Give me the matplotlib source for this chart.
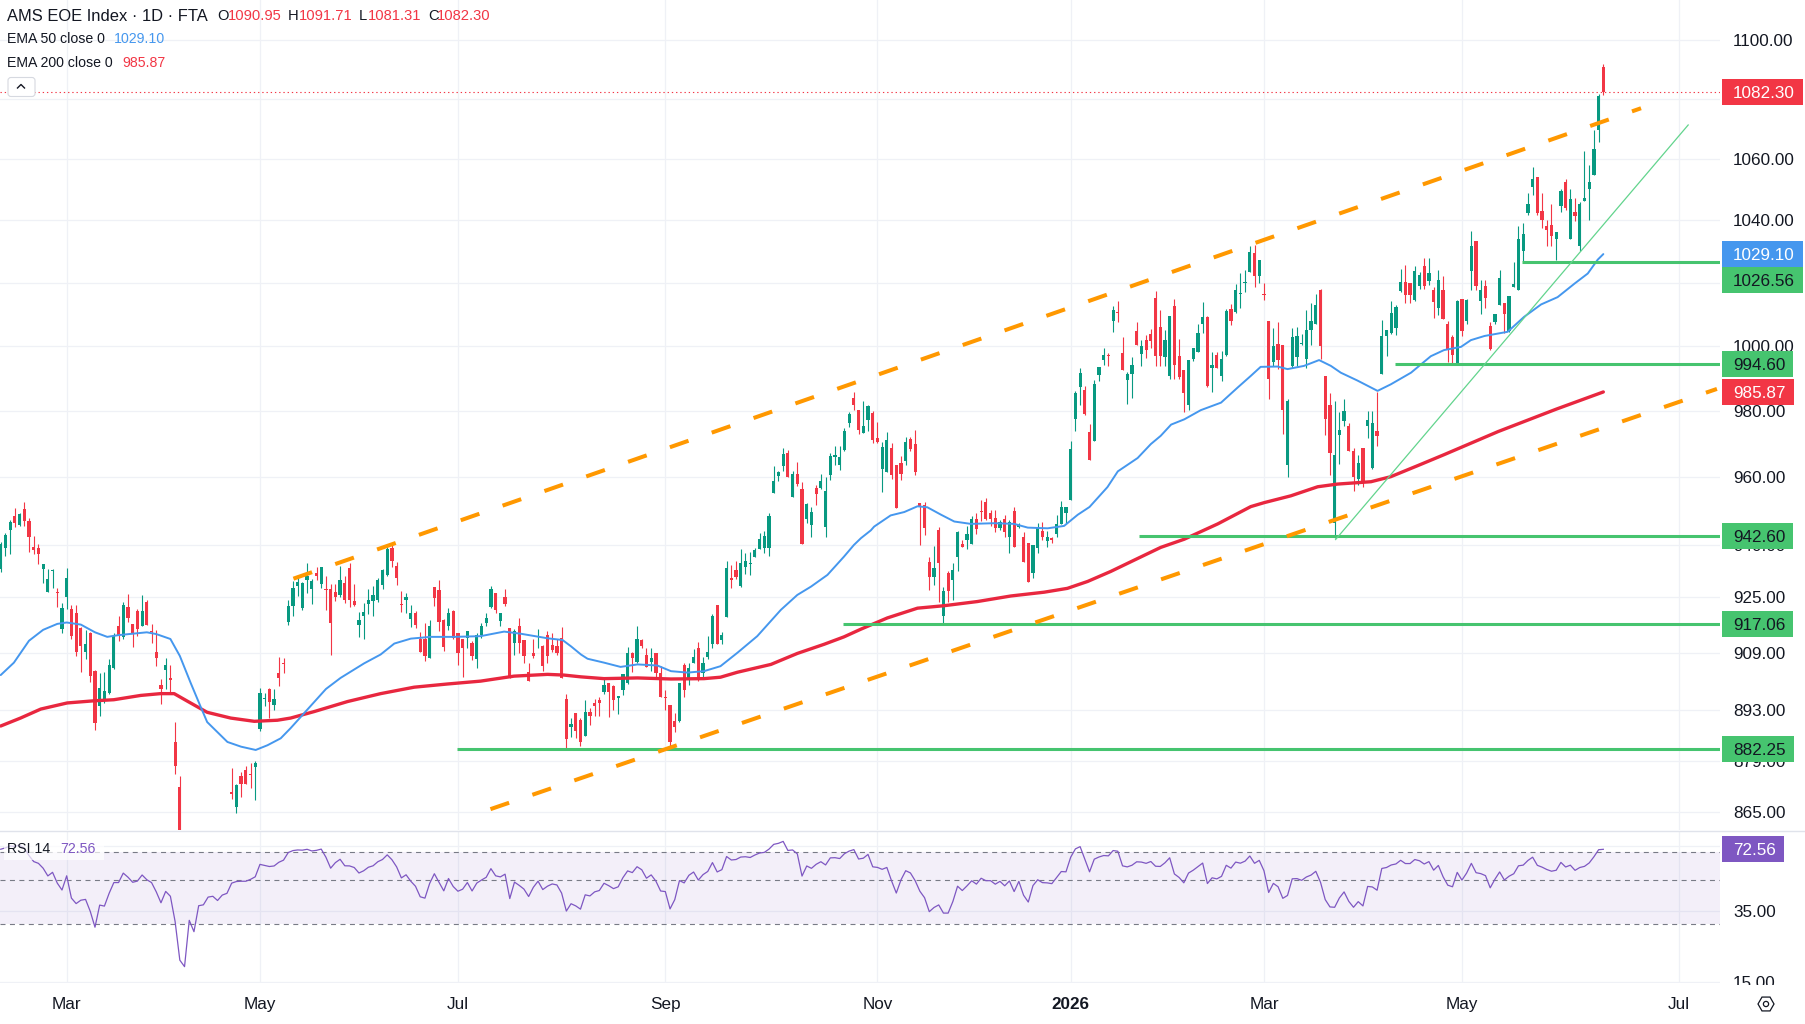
import numpy as np
import matplotlib
matplotlib.use('Agg')
import matplotlib.pyplot as plt
from matplotlib.patches import Rectangle, RegularPolygon, Circle, FancyBboxPatch
from matplotlib.lines import Line2D
from matplotlib.transforms import IdentityTransform, Bbox

plt.rcParams['font.family'] = ['Liberation Sans', 'DejaVu Sans']

# ---------------- data ----------------
first_session = '2025-02-11'
holidays = ['2025-04-18', '2025-04-21', '2025-05-01', '2025-12-25', '2025-12-26',
            '2026-01-01', '2026-04-03', '2026-04-06', '2026-05-01']

opens = [
    933.1, 939.0, 944.5, 948.6, 945.8, 950.7, 947.1, 939.3, 939.0, 932.9,
    926.3, 932.3, 926.2, 915.7, 924.9, 921.4, 920.2, 916.1, 909.2, 914.6,
    903.8, 894.1, 895.4, 897.7, 904.6, 916.7, 913.4, 922.1, 917.2, 920.8,
    916.6, 923.4, 915.0, 909.3, 899.8, 904.0, 902.0, 884.1, 871.8,
    812, 832, 825, 852, 842, 852, 855, 853, 851, 852,
    870.3, 866.4, 874.8, 876.5, 875.2, 877.1, 887.6, 896.0, 898.8, 894.3, 903.4, 906.0, 917.7,
    922.2, 928.0, 921.7, 929.7, 927.3, 931.7, 928.8, 927.0, 927.3, 926.3,
    925.5, 928.9, 933.4, 923.8, 917.0, 919.4, 922.8, 923.7, 924.0, 928.5,
    931.4, 939.0, 933.9, 922.7, 924.0, 918.7, 920.4, 913.0, 913.0, 907.6,
    927.7, 927.0, 918.2, 916.5, 921.0, 914.6, 912.8, 913.2, 911.8, 907.3,
    913.9, 917.5, 922.0, 926.1, 918.1, 925.0, 916.0, 911.8, 916.6, 912.5,
    903.5, 908.8, 913.4, 910.9, 913.9, 911.1, 911.0, 913.2, 896.0, 888.1,
    892.0, 890.3,
    885.8, 892.4, 894.9, 895.8, 898.0, 900.4, 899.7, 896.2, 898.6, 900.5,
    909.0, 906.4, 912.6, 908.3, 906.5, 909.0, 903.4, 896.3, 894.4, 889.8,
    889.8, 905.6, 902.0, 906.2, 910.4, 903.4, 907.8, 911.4, 922.6, 912.7,
    919.2, 930.3, 932.7, 928.0, 933.7, 934.4, 936.6, 938.7, 939.0, 939.0,
    955.3, 960.3, 963.3, 967.3, 954.3, 961.1, 956.6, 947.6, 945.8, 956.8,
    956.8, 945.3, 960.6, 966.1, 963.6, 968.3, 976.5, 983.9, 980.3, 973.5,
    977.3,
    979.5, 971.9, 962.5, 961.6, 968.9, 963.8, 964.3, 964.8, 971.4, 969.9,
    952.3, 951.8, 935.0, 930.8, 944.5, 919.4, 931.8, 929.8, 936.6, 940.3,
    941.4, 940.3, 947.6, 950.1, 952.8, 949.4, 947.9, 944.9, 947.6, 942.2,
    950.1, 945.2, 942.4, 940.5, 931.8, 939.2, 944.1, 941.2, 941.7, 943.3,
    946.2, 949.4, 953.3, 977.5, 987.5, 986.4, 973.7, 971.0, 991.0, 995.7,
    997.2, 1007.8, 1010.6, 998.0, 989.5, 991.3, 1004.7, 997.7, 1001.8, 1003.8,
    1015.1,
    1006.0, 996.8, 990.8, 1012.6, 997.1, 992.6, 982.0, 995.9, 998.3, 1007.0,
    1009.2, 993.1, 997.4, 990.9, 997.4, 1011.8, 1010.7, 1016.4, 1019.9, 1023.4,
    1029.3, 1022.1, 1016.5, 1007.8, 995.1, 1000.8, 1000.5, 963.8, 993.8, 996.7,
    1000.6, 996.1, 1005.2, 1007.1, 1017.6, 990.8, 982.0, 946.4, 972.6, 977.1,
    975.4, 967.8, 959.6, 968.8, 975.4, 962.9, 974.0, 991.5, 1003.3, 1004.1,
    1005.7, 1017.4, 1020.1, 1019.9, 1014.5, 1018.9, 1025.3, 1020.4, 1017.6, 1011.9,
    1017.6, 1007.1,
    1002.9, 994.8, 1014.9, 1008.0, 1023.8, 1033.4, 1014.2, 1018.9, 1006.3, 1007.6,
    1012.8, 1013.7, 1004.7, 1018.7, 1017.6, 1030.0, 1042.2, 1050.8, 1054.1, 1043.0,
    1038.1, 1038.6, 1034.0, 1044.5, 1052.4, 1033.8, 1042.7, 1031.6, 1046.2, 1050.1,
    1054.6, 1069.6, 1090.95,
]

highs = [
    941.0, 943.5, 947.3, 950.9, 949.3, 952.6, 948.0, 942.7, 940.2, 934.6,
    932.9, 932.9, 927.6, 923.2, 933.4, 922.6, 922.6, 916.4, 915.4, 915.0,
    904.0, 903.2, 903.7, 907.2, 914.6, 919.5, 923.6, 925.9, 917.2, 921.4,
    925.6, 924.1, 917.1, 915.4, 901.5, 907.5, 905.4, 889.7, 874.9,
    835, 848, 838, 858, 850, 858, 859, 857, 858, 859,
    877.0, 872.7, 875.9, 877.4, 878.2, 878.8, 899.1, 897.7, 899.1, 898.7, 907.9, 907.6, 924.1,
    929.4, 931.3, 929.2, 934.7, 930.1, 933.6, 933.5, 931.1, 928.7, 928.7,
    934.0, 931.1, 934.7, 928.7, 920.7, 923.1, 927.3, 928.0, 930.4, 933.0,
    939.8, 940.6, 934.9, 926.6, 926.0, 922.6, 921.0, 915.0, 917.5, 918.4,
    927.8, 929.9, 918.6, 921.7, 921.2, 914.6, 913.0, 915.3, 912.3, 914.6,
    917.5, 920.4, 928.0, 926.1, 920.4, 927.3, 916.0, 915.6, 918.9, 912.5,
    906.0, 913.0, 915.8, 911.1, 915.1, 914.6, 912.8, 916.3, 897.3, 890.6,
    892.0, 890.8,
    895.8, 893.5, 896.1, 896.5, 901.7, 900.5, 899.9, 896.9, 903.1, 910.6,
    909.2, 916.5, 913.0, 910.4, 910.4, 909.0, 905.2, 898.5, 894.4, 892.1,
    900.5, 906.0, 906.0, 910.0, 912.0, 907.9, 913.7, 919.9, 922.6, 914.8,
    935.2, 934.2, 935.2, 938.7, 937.6, 938.0, 939.0, 943.5, 944.0, 949.3,
    963.5, 961.8, 968.8, 968.3, 961.8, 964.5, 958.6, 952.5, 951.1, 957.8,
    961.1, 960.0, 967.3, 969.3, 969.5, 975.0, 979.8, 985.9, 980.3, 983.0,
    981.8,
    980.0, 976.7, 970.6, 973.7, 970.4, 963.8, 966.3, 972.1, 972.1, 974.4,
    952.5, 952.8, 936.4, 939.7, 945.3, 927.9, 932.4, 934.7, 944.0, 941.5,
    945.5, 948.4, 949.4, 953.4, 953.8, 950.4, 950.4, 947.2, 948.7, 947.2,
    951.1, 946.6, 943.9, 940.5, 940.0, 946.4, 946.9, 944.1, 942.2, 948.7,
    953.1, 951.3, 970.8, 986.1, 993.3, 987.7, 976.0, 989.4, 993.7, 999.5,
    998.0, 1012.7, 1014.1, 1002.9, 992.0, 996.5, 1007.5, 1001.9, 1003.6, 1005.4,
    1017.2,
    1011.2, 1005.2, 1009.5, 1014.7, 1002.1, 992.6, 995.7, 999.5, 1007.0, 1014.0,
    1009.4, 998.2, 998.2, 998.6, 1011.8, 1013.1, 1019.5, 1022.9, 1024.0, 1031.7,
    1032.0, 1027.2, 1019.8, 1007.8, 1005.7, 1007.5, 1000.5, 983.6, 1005.7, 1006.0,
    1003.9, 1011.2, 1013.5, 1016.4, 1018.0, 990.8, 985.5, 983.0, 979.8, 983.7,
    976.5, 968.8, 966.8, 968.8, 980.1, 980.0, 986.0, 1008.3, 1005.2, 1014.2,
    1012.9, 1024.2, 1025.6, 1019.9, 1025.3, 1023.4, 1027.7, 1027.7, 1018.6, 1024.0,
    1022.2, 1008.0,
    1003.4, 1014.6, 1014.9, 1014.9, 1036.4, 1033.4, 1020.7, 1020.7, 1007.6, 1010.2,
    1024.0, 1013.7, 1015.7, 1026.5, 1038.0, 1039.1, 1048.7, 1057.3, 1054.1, 1048.9,
    1040.2, 1045.3, 1036.3, 1050.2, 1053.5, 1050.2, 1047.3, 1045.9, 1062.8, 1058.2,
    1069.6, 1081.7, 1091.71,
]

lows = [
    932.0, 936.8, 937.5, 945.3, 945.6, 945.6, 937.9, 937.3, 934.6, 929.0,
    926.3, 927.6, 922.0, 914.5, 921.4, 913.0, 908.0, 903.7, 907.2, 900.7,
    887.4, 891.3, 894.9, 897.5, 904.3, 912.2, 913.0, 917.8, 910.5, 913.7,
    916.6, 916.8, 911.7, 905.3, 894.6, 898.7, 897.9, 875.2, 825.0,
    790, 828, 812, 836, 832, 849, 850, 845, 848, 848,
    868.6, 864.8, 869.1, 872.5, 871.4, 868.4, 887.2, 894.0, 890.8, 893.0, 899.6, 903.2, 916.8,
    919.4, 925.2, 921.2, 926.0, 922.9, 929.9, 927.5, 921.3, 908.4, 923.9,
    925.0, 923.3, 922.0, 922.2, 913.5, 913.0, 920.0, 919.5, 923.5, 927.3,
    930.9, 933.6, 928.5, 920.5, 920.3, 916.3, 916.0, 909.2, 906.7, 907.6,
    922.4, 915.1, 909.5, 915.4, 913.0, 905.4, 902.1, 910.4, 907.0, 904.8,
    913.2, 916.5, 921.7, 920.4, 916.7, 922.2, 902.0, 908.5, 909.0, 906.0,
    901.0, 907.6, 910.4, 903.8, 906.0, 909.2, 908.5, 901.9, 882.5, 885.4,
    885.2, 882.9,
    885.8, 888.9, 891.2, 891.2, 897.5, 891.0, 893.0, 891.8, 897.1, 900.3,
    903.6, 906.2, 910.4, 905.1, 903.8, 901.5, 896.6, 893.0, 882.3, 886.8,
    889.5, 896.6, 899.8, 906.0, 901.0, 901.5, 907.2, 910.4, 911.4, 911.4,
    919.2, 927.4, 930.0, 927.7, 931.6, 931.3, 936.6, 938.7, 937.6, 936.8,
    955.3, 958.8, 961.8, 960.0, 954.3, 957.3, 940.2, 946.4, 942.2, 951.9,
    956.5, 942.2, 959.3, 963.8, 962.3, 967.8, 975.3, 980.3, 973.1, 973.5,
    973.9,
    970.4, 970.2, 955.5, 961.6, 959.5, 950.8, 959.3, 963.6, 967.9, 960.6,
    940.0, 942.9, 927.0, 928.4, 923.6, 916.8, 923.6, 924.1, 932.4, 939.3,
    938.7, 940.3, 943.3, 947.0, 947.2, 945.6, 943.9, 944.5, 942.2, 937.6,
    939.3, 944.9, 935.0, 929.3, 930.3, 937.6, 941.5, 939.5, 940.5, 942.2,
    946.2, 946.6, 953.3, 974.0, 982.0, 978.8, 965.1, 971.0, 989.2, 994.1,
    993.8, 1004.4, 1007.5, 992.6, 982.3, 984.1, 1000.3, 993.8, 996.3, 999.5,
    994.0,
    994.0, 994.0, 990.0, 990.0, 990.0, 979.7, 980.4, 995.5, 998.3, 1004.1,
    987.5, 986.0, 993.1, 989.3, 997.1, 1006.6, 1010.5, 1012.0, 1017.0, 1023.4,
    1018.5, 1019.8, 1014.5, 983.6, 993.9, 992.8, 972.9, 960.0, 993.4, 993.8,
    1000.5, 993.4, 1000.5, 1006.8, 996.1, 972.6, 960.7, 942.0, 963.9, 975.5,
    967.8, 955.8, 957.6, 957.2, 971.7, 962.4, 969.5, 991.5, 996.9, 1003.9,
    1003.6, 1017.1, 1013.5, 1013.5, 1014.2, 1018.1, 1017.9, 1019.4, 1008.8, 1009.8,
    1008.4, 995.1,
    994.8, 994.8, 1003.1, 1007.1, 1017.6, 1017.8, 1010.2, 1011.9, 998.8, 1006.9,
    1012.8, 1004.2, 1004.4, 1018.5, 1017.6, 1026.8, 1041.7, 1048.1, 1041.8, 1037.5,
    1031.8, 1031.6, 1027.1, 1042.6, 1043.3, 1033.8, 1039.7, 1030.0, 1046.2, 1040.0,
    1054.6, 1065.8, 1081.31,
]

closes = [
    940.2, 943.0, 946.8, 946.6, 949.0, 947.1, 942.4, 938.6, 937.5, 934.6,
    930.0, 932.5, 926.0, 921.7, 930.5, 913.8, 909.3, 911.0, 911.4, 902.4,
    889.4, 899.1, 898.2, 905.6, 913.8, 913.8, 922.6, 919.0, 914.6, 915.6,
    920.8, 917.0, 914.8, 907.6, 898.7, 905.4, 901.3, 877.5, 828.0,
    818, 842, 822, 845, 846, 855, 856, 849, 855, 857,
    870.0, 872.3, 872.7, 872.7, 875.0, 878.2, 897.7, 896.3, 895.1, 896.0, 902.0, 905.8, 922.2,
    927.5, 929.2, 929.0, 931.1, 929.6, 930.9, 933.5, 926.8, 917.5, 924.8,
    929.9, 924.1, 924.0, 922.7, 918.4, 920.5, 924.0, 925.5, 929.9, 932.6,
    938.8, 935.4, 930.4, 922.5, 925.0, 920.4, 916.8, 909.2, 908.2, 916.7,
    924.5, 917.6, 910.7, 920.3, 913.2, 909.0, 910.4, 915.3, 908.2, 914.0,
    916.5, 918.8, 927.3, 921.3, 920.4, 922.8, 902.0, 915.1, 911.8, 908.2,
    901.0, 908.0, 913.5, 905.2, 908.0, 909.9, 909.0, 901.9, 884.9, 889.1,
    887.0, 884.0,
    892.4, 891.4, 894.0, 894.9, 899.9, 898.0, 895.8, 896.9, 903.1, 908.8,
    907.6, 913.0, 910.9, 905.1, 907.6, 903.4, 896.6, 896.2, 884.0, 888.2,
    900.4, 898.5, 904.8, 907.9, 901.5, 906.2, 909.2, 919.4, 911.4, 913.9,
    933.2, 929.8, 930.6, 934.7, 935.2, 934.6, 938.4, 941.7, 942.7, 948.5,
    959.0, 961.7, 967.1, 960.0, 961.0, 958.1, 940.2, 952.0, 949.8, 955.1,
    958.8, 956.0, 966.5, 966.8, 966.1, 974.0, 979.0, 982.0, 974.3, 975.5,
    981.5,
    971.2, 970.7, 969.2, 971.1, 960.8, 950.8, 961.0, 970.7, 968.6, 961.5,
    951.5, 945.1, 930.8, 933.2, 934.7, 926.7, 926.7, 932.8, 943.7, 939.5,
    943.2, 947.6, 944.6, 949.7, 947.6, 947.6, 944.9, 946.9, 943.7, 946.9,
    939.3, 945.9, 935.0, 929.3, 940.0, 944.9, 942.4, 942.2, 941.6, 946.1,
    951.3, 951.1, 968.5, 985.6, 991.8, 979.0, 965.1, 988.4, 993.7, 997.4,
    997.0, 1011.2, 1010.4, 992.6, 991.3, 994.1, 1000.3, 1000.0, 998.7, 1001.6,
    997.1,
    996.9, 1001.8, 1009.5, 994.1, 990.6, 985.4, 995.7, 999.3, 1004.1, 1009.2,
    987.8, 994.3, 993.1, 995.9, 1011.0, 1007.9, 1017.8, 1016.6, 1020.1, 1029.8,
    1022.1, 1027.2, 1016.2, 990.0, 1000.2, 995.7, 980.3, 983.0, 1002.8, 1003.1,
    1000.8, 1005.2, 1007.8, 1013.0, 1000.0, 977.5, 967.3, 966.8, 974.4, 980.1,
    967.8, 960.0, 964.4, 959.0, 977.2, 976.5, 972.4, 1003.3, 1005.2, 1010.3,
    1012.4, 1020.1, 1016.0, 1016.0, 1023.8, 1022.4, 1018.9, 1022.9, 1014.0, 1020.9,
    1008.6, 999.0,
    997.2, 1014.2, 1004.8, 1014.4, 1031.8, 1018.9, 1017.6, 1015.0, 999.1, 1010.0,
    1021.5, 1010.0, 1015.7, 1019.6, 1034.0, 1035.4, 1045.4, 1053.5, 1042.4, 1040.0,
    1037.0, 1034.9, 1036.3, 1049.4, 1044.0, 1047.0, 1041.3, 1045.4, 1047.1, 1052.3,
    1063.4, 1081.1, 1082.30,
]

# EMA curves (bar index, value)
ema50_bars = [0, 2.8, 6, 9, 12, 14, 17, 20, 22.6, 25, 28, 31, 33, 36, 38, 40.3, 42.4, 43.8, 48.1,
              51, 54.1, 56.6, 59.4, 61.5, 64.4, 69, 72.1, 77.1, 80.6, 83.5, 87, 91.2, 96.2, 101.8,
              106.8, 110.3, 116, 119.2, 121, 123.1, 124.5, 128, 131.5, 135.1, 139.3, 142.2, 145.7,
              149.2, 152.7, 156.3, 160.5, 165.5, 169, 171.9, 175.4, 178.9, 181, 182.5, 184.6, 185.3,
              188.8, 191.7, 194.5, 196.6, 199.5, 202.3, 205.8, 210.8, 215, 217.9, 222.1, 225.6,
              228.5, 231, 234.8, 237, 241.2, 244, 246.1, 248.3, 251.1, 254.6, 258.9, 262.4, 265.2,
              267.3, 270.9, 273, 276.5, 279.7, 282.2, 284.3, 287.8, 292.1, 294.9, 299.2, 303.4,
              306.2, 309.8, 311.9, 314.8, 319.7, 323.2, 326.8, 330.3, 333.9, 336.7, 338.8, 340]
ema50_vals = [902.7, 906.2, 912.4, 915.5, 917.2, 917.6, 917.0, 914.8, 913.5, 914.0, 914.4, 914.8,
              914.3, 912.9, 908.1, 900.5, 893.9, 889.6, 884.1, 882.8, 881.9, 883.2, 885.1, 887.9,
              892.1, 898.8, 901.9, 906.0, 908.5, 911.6, 913.0, 913.5, 913.5, 913.7, 915.0, 914.4,
              913.1, 912.6, 910.8, 908.5, 907.3, 906.2, 905.0, 905.7, 905.4, 903.8, 903.4, 903.8,
              905.2, 909.0, 913.7, 921.2, 925.5, 927.9, 931.3, 936.6, 940.0, 942.0, 944.3, 945.4,
              948.7, 949.7, 951.4, 951.1, 948.9, 946.9, 946.2, 946.4, 946.2, 945.1, 944.9, 945.6,
              948.9, 951.2, 957.1, 961.8, 965.8, 970.0, 972.5, 975.9, 977.5, 980.3, 982.6, 987.2,
              990.8, 993.6, 993.7, 992.9, 993.9, 995.7, 993.9, 991.8, 989.4, 986.2, 988.2, 991.8,
              996.9, 998.8, 999.8, 1001.9, 1003.2, 1004.5, 1009.2, 1013.1, 1015.4, 1019.7, 1022.9,
              1027.3, 1029.1]
ema200_bars = [0, 4.2, 8.5, 14.1, 19.8, 24, 29.7, 33.9, 36.8, 39.6, 43.8, 48.8, 53.8, 58.7, 61.5,
               66.5, 73.6, 80.6, 87.7, 94.8, 101.8, 108.9, 116, 119.5, 123.1, 128, 135.1, 142.2,
               149.2, 152.7, 156.3, 163.4, 169, 174.7, 178.9, 182.5, 188.1, 194.5, 200.1, 207.2,
               214.3, 221.4, 226.3, 230.6, 235.5, 240.5, 246.1, 251.1, 258.2, 265.2, 268.1, 273.7,
               279.4, 283.6, 290.7, 294.9, 300.6, 306.2, 317.7, 330, 340]
ema200_vals = [888.5, 890.7, 893.2, 894.9, 895.5, 895.8, 897.0, 897.5, 897.5, 895.4, 892.3, 890.7,
               889.8, 890.1, 890.7, 892.5, 895.3, 897.5, 899.3, 900.2, 901.0, 902.4, 902.9, 902.7,
               902.2, 901.7, 901.9, 901.6, 901.7, 902.1, 903.5, 905.7, 908.8, 911.4, 913.5, 915.7,
               918.9, 921.7, 922.4, 923.6, 925.2, 926.3, 927.4, 929.4, 932.3, 935.6, 939.3, 941.7,
               946.2, 951.3, 952.5, 954.5, 957.2, 958.0, 958.7, 960.2, 963.5, 966.8, 973.8, 980.6,
               985.87]

last_ohlc = [1090.95, 1091.71, 1081.31, 1082.30]
ema50_last = 1029.10
ema200_last = 985.87
rsi_last = 72.56
rsi_period = 14
rsi_seed_gain, rsi_seed_loss = 3.4, 1.3

month_labels = ['Mar', 'May', 'Jul', 'Sep', 'Nov', '2026', 'Mar', 'May', 'Jul']
month_dates = ['2025-03-01', '2025-05-01', '2025-07-01', '2025-09-01', '2025-11-01',
               '2026-01-01', '2026-03-01', '2026-05-01', '2026-07-01']
price_ticks = [865, 879, 893, 909, 925, 940, 960, 980, 1000, 1020, 1040, 1060, 1080, 1100]
rsi_ticks = [75, 35, 15]
rsi_levels = [70, 50, 30]

level_prices = [882.25, 917.06, 942.60, 994.60, 1026.56]
level_start_bars = [96.8, 178.8, 241.5, 295.8, 322.7]
upper_channel_bars, upper_channel_prices = [62.1, 348.0], [930.2, 1076.9]
lower_channel_bars, lower_channel_prices = [103.9, 364.1], [865.8, 986.8]
trend_bars, trend_prices = [283.2, 358.0], [941.6, 1071.3]

# ---------------- style ----------------
W, H = 1806, 1024
UP, DOWN = '#089981', '#F23645'
BLUE = '#4597EE'
EMA_RED = '#E8273F'
ORANGE = '#FF9800'
GREEN = '#46C46F'
PURPLE = '#7E57C2'
GRID = '#EFF1F6'
TXT = '#131722'
ID = IdentityTransform()

o = np.array(opens, float); h = np.array(highs, float)
l = np.array(lows, float); c = np.array(closes, float)
n = len(c)
assert len(o) == len(h) == len(l) == n, (len(o), len(h), len(l), n)
x = np.arange(n)

dates = np.busday_offset(first_session, np.arange(n), roll='forward', holidays=holidays)
tick_pos = []
for md in month_dates:
    d = np.datetime64(md)
    if d <= dates[-1]:
        tick_pos.append(int(np.searchsorted(dates, d)))
    else:
        tick_pos.append(n - 1 + int((d - dates[-1]).astype(int)))


def rsi_wilder(cl, period, g0, l0):
    out = np.empty(len(cl))
    ag, al = g0, l0
    out[0] = 100 - 100 / (1 + ag / al)
    for i in range(1, len(cl)):
        ch = cl[i] - cl[i - 1]
        ag = (ag * (period - 1) + max(ch, 0)) / period
        al = (al * (period - 1) + max(-ch, 0)) / period
        out[i] = 100 - 100 / (1 + ag / al) if al > 0 else 100.0
    return out


rsi = rsi_wilder(c, rsi_period, rsi_seed_gain, rsi_seed_loss)

fig = plt.figure(figsize=(W / 100, H / 100), dpi=100, facecolor='white')
plot_w = 1720
ax = fig.add_axes([0, 1 - 830 / H, plot_w / W, 830 / H])
rx = fig.add_axes([0, 1 - 983 / H, plot_w / W, (983 - 831) / H])
xlim = (-0.15, -0.15 + plot_w / 4.7136)
for a in (ax, rx):
    a.set_yscale('log')
    a.set_xlim(*xlim)
    a.set_axis_off()
ax.set_ylim(860.2, 1113.8)
rx.set_ylim(14.83, 89.8)

# grids
for p in price_ticks:
    ax.axhline(p, color=GRID, lw=0.9, zorder=0)
for t in rsi_ticks:
    rx.axhline(t, color=GRID, lw=0.9, zorder=0)
for t in tick_pos:
    ax.axvline(t, color=GRID, lw=0.9, zorder=0)
    rx.axvline(t, color=GRID, lw=0.9, zorder=0)

# candles
up = c >= o
cols = np.where(up, UP, DOWN)
ax.vlines(x, l, h, colors=cols, lw=0.8, zorder=2)
bb = np.minimum(o, c)
bh = np.maximum(np.abs(c - o), 0.35)
ax.bar(x, bh, bottom=bb, width=0.68, color=cols, linewidth=0, zorder=3)

# EMAs
ax.plot(ema200_bars, ema200_vals, color=EMA_RED, lw=2.4, zorder=4, solid_capstyle='round')
ax.plot(ema50_bars, ema50_vals, color=BLUE, lw=1.4, zorder=4, solid_capstyle='round')

# last price dotted line
ax.axhline(last_ohlc[3], color=DOWN, lw=0.8, linestyle=(0, (1.2, 2.6)), zorder=1)

# drawings
for p, s in zip(level_prices, level_start_bars):
    ax.plot([s, xlim[1]], [p, p], color=GREEN, lw=2.2, zorder=5, solid_capstyle='butt')
for bx, py in ((upper_channel_bars, upper_channel_prices), (lower_channel_bars, lower_channel_prices)):
    ax.plot(bx, py, color=ORANGE, lw=2.9, dashes=(4.9, 6.1), dash_capstyle='butt', zorder=6)
ax.plot(trend_bars, trend_prices, color='#62D48D', lw=0.9, zorder=5)

# RSI pane
rx.axhspan(rsi_levels[-1], rsi_levels[0], color=PURPLE, alpha=0.09, lw=0, zorder=0)
for lv in rsi_levels:
    rx.axhline(lv, color='#787B86', lw=0.8, dashes=(4.5, 4), zorder=1)
rx.plot(x, rsi, color=PURPLE, lw=0.9, zorder=3)

# separator
fig.add_artist(Line2D([0, W], [H - 831, H - 831], color='#E0E3EB', lw=1, transform=ID))

renderer = fig.canvas.get_renderer()
FS = 12.3
BOX_H = 26

# value boxes on the price scales: compute their vertical slots first
boxes = [(last_ohlc[3], DOWN, 'white'), (ema50_last, BLUE, 'white'), (level_prices[4], GREEN, TXT),
         (level_prices[3], GREEN, TXT), (ema200_last, DOWN, 'white'), (level_prices[2], GREEN, TXT),
         (level_prices[1], GREEN, TXT), (level_prices[0], GREEN, TXT)]
boxes.sort(key=lambda b: -b[0])
main_slots = []
prev = None
for val, fc, tc in boxes:
    yc = ax.transData.transform((0, val))[1]
    if prev is not None and prev - yc < BOX_H:
        yc = prev - BOX_H
    main_slots.append((yc, f'{val:.2f}', fc, tc))
    prev = yc
rsi_slots = [(rx.transData.transform((0, rsi_last))[1], f'{rsi_last:.2f}', PURPLE, 'white')]


def covered(yc, slots):
    # a scale label is fully hidden when its digits lie inside a value box
    return any(s[0] - BOX_H / 2 <= yc - 6 and yc + 6 <= s[0] + BOX_H / 2 for s in slots)


# price scale labels
for p in price_ticks:
    yd = ax.transData.transform((0, p))[1]
    if covered(yd, main_slots):
        continue
    fig.text(1733, yd - 6.1, f'{p:.2f}', transform=ID, fontsize=FS, color=TXT,
             va='baseline', ha='left', zorder=5)
clip = Bbox.from_extents(plot_w, H - 985, W, H - 831)
for t in rsi_ticks:
    yd = rx.transData.transform((0, t))[1]
    if covered(yd, rsi_slots):
        continue
    tt = fig.text(1733, yd - 6.1, f'{t:.2f}', transform=ID, fontsize=FS, color=TXT,
                  va='baseline', ha='left', zorder=5)
    tt.set_clip_box(clip)
    tt.set_clip_on(True)


def value_box(yc, label, fc, tc):
    t = fig.text(1733, yc - 6.1, label, transform=ID, fontsize=FS, color=tc,
                 va='baseline', ha='left', zorder=12)
    ext = t.get_window_extent(renderer=renderer)
    r = Rectangle((1722, yc - BOX_H / 2), ext.x1 + 8 - 1722, BOX_H, transform=ID, facecolor=fc,
                  edgecolor='none', zorder=11)
    fig.add_artist(r)


for slot in main_slots + rsi_slots:
    value_box(*slot)

# time axis labels
for pos, lab in zip(tick_pos, month_labels):
    xd = rx.transData.transform((pos, 20))[0]
    fig.text(xd, H - 1009, lab, transform=ID, fontsize=FS, color=TXT, ha='center',
             va='baseline', fontweight='bold' if lab == '2026' else 'normal')

# legend (top left)
fig.text(7, H - 20.7, 'AMS EOE Index · 1D · FTA', transform=ID, fontsize=11.9, color=TXT, va='baseline')
for (lab, xp_l, xp_v), v in zip((('O', 217, 228), ('H', 288, 299), ('L', 359, 368), ('C', 428, 437)), last_ohlc):
    fig.text(xp_l, H - 19.7, lab, transform=ID, fontsize=10.6, color=TXT, va='baseline')
    fig.text(xp_v, H - 19.7, f'{v:.2f}', transform=ID, fontsize=10.6, color=DOWN, va='baseline')
fig.text(7, H - 43.3, 'EMA 50 close 0', transform=ID, fontsize=10.2, color=TXT, va='baseline')
fig.text(114, H - 43.3, f'{ema50_last:.2f}', transform=ID, fontsize=10.2, color=BLUE, va='baseline')
fig.text(7, H - 67.3, 'EMA 200 close 0', transform=ID, fontsize=10.2, color=TXT, va='baseline')
fig.text(122, H - 67.3, f'{ema200_last:.2f}', transform=ID, fontsize=10.2, color=DOWN, va='baseline')
fig.add_artist(FancyBboxPatch((8, H - 96.5), 27, 19, boxstyle='round,pad=0,rounding_size=3',
                              transform=ID, facecolor='white', edgecolor='#D6D9E0', lw=0.8, zorder=8))
fig.add_artist(Line2D([17.5, 21, 24.5], [H - 88, H - 84.5, H - 88], color=TXT, lw=1.0,
                      transform=ID, zorder=9))

# RSI legend
fig.add_artist(Rectangle((4, H - 860), 100, 20, transform=ID, facecolor='white', alpha=0.7,
                         edgecolor='none', zorder=7))
fig.text(7, H - 853, f'RSI {rsi_period}', transform=ID, fontsize=10.2, color=TXT, va='baseline', zorder=8)
fig.text(60, H - 853, f'{rsi_last:.2f}', transform=ID, fontsize=10.2, color=PURPLE, va='baseline', zorder=8)

# settings icon
fig.add_artist(RegularPolygon((1766, H - 1004), numVertices=6, radius=8, orientation=np.pi / 6,
                              transform=ID, fill=False, edgecolor=TXT, lw=0.9))
fig.add_artist(Circle((1766, H - 1004), 2.6, transform=ID, fill=False, edgecolor=TXT, lw=0.9))

fig.savefig('out.png', dpi=100, facecolor='white')
